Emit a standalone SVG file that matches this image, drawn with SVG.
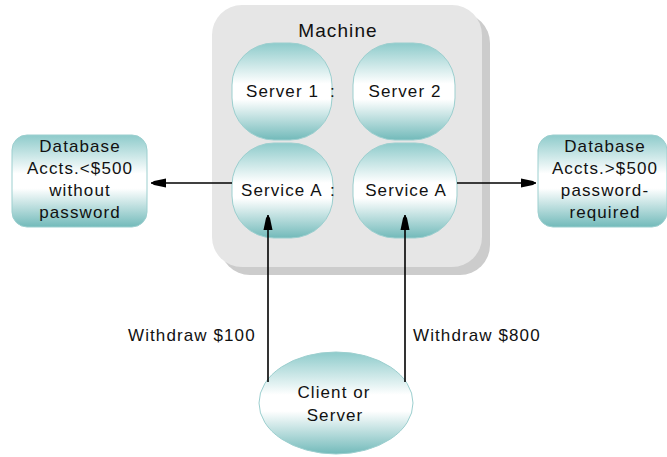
<svg xmlns="http://www.w3.org/2000/svg" width="667" height="457" viewBox="0 0 667 457">
<defs>
<linearGradient id="teal" x1="0" y1="0" x2="0" y2="1">
<stop offset="0" stop-color="#8ecbcb"/>
<stop offset="0.42" stop-color="#ffffff"/>
<stop offset="0.58" stop-color="#ffffff"/>
<stop offset="1" stop-color="#72baba"/>
</linearGradient>
<marker id="arr" markerUnits="userSpaceOnUse" markerWidth="16" markerHeight="12" refX="15" refY="6" orient="auto">
<path d="M0,1.5 L12,4 L15,6 L12,8 L0,10.5 z" fill="#000"/>
</marker>
<style>
.t{font-family:"Liberation Sans",Arial,sans-serif;font-size:17px;fill:#111;letter-spacing:1.1px}
.m{text-anchor:middle}
.node{fill:url(#teal);stroke:#9ccfcf;stroke-width:1}
.edge{stroke:#000;stroke-width:1.6;fill:none;marker-end:url(#arr)}
</style>
</defs>
<g id="machine">
<rect x="220" y="13" width="270" height="262" rx="30" fill="#cccccc"/>
<rect x="212" y="5" width="270" height="262" rx="30" fill="#e6e6e6"/>
<text class="t m" x="338" y="37" style="font-size:19px">Machine</text>
</g>
<g id="server1">
<rect class="node" x="232" y="43" width="100" height="97" rx="42"/>
<text class="t" x="246" y="97">Server 1<tspan x="330">:</tspan></text>
</g>
<g id="server2">
<rect class="node" x="353" y="43" width="102" height="97" rx="42"/>
<text class="t m" x="405" y="97">Server 2</text>
</g>
<g id="serviceA1">
<rect class="node" x="232" y="143" width="101" height="95" rx="42"/>
<text class="t" x="241" y="196">Service A<tspan x="330">:</tspan></text>
</g>
<g id="serviceA2">
<rect class="node" x="353" y="143" width="104" height="95" rx="42"/>
<text class="t m" x="406" y="196">Service A</text>
</g>
<g id="dbLow">
<rect class="node" x="12" y="135" width="135" height="92" rx="15"/>
<text class="t m" x="80" y="152">Database</text>
<text class="t m" x="80" y="174">Accts.&lt;$500</text>
<text class="t m" x="80" y="196">without</text>
<text class="t m" x="80" y="218">password</text>
</g>
<g id="dbHigh">
<rect class="node" x="538" y="135" width="129" height="92" rx="15"/>
<text class="t m" x="605" y="152">Database</text>
<text class="t m" x="605" y="174">Accts.&gt;$500</text>
<text class="t m" x="605" y="196">password-</text>
<text class="t m" x="605" y="218">required</text>
</g>
<g id="client">
<ellipse class="node" cx="336" cy="403" rx="77" ry="51"/>
<text class="t m" x="334" y="398">Client or</text>
<text class="t m" x="335" y="421">Server</text>
</g>
<g id="connectors">
<line class="edge" x1="232" y1="183" x2="151" y2="183"/>
<line class="edge" x1="457" y1="183" x2="536" y2="183"/>
<line class="edge" x1="268" y1="382" x2="268" y2="215"/>
<line class="edge" x1="405" y1="382" x2="405" y2="215"/>
<text class="t" x="128" y="341">Withdraw $100</text>
<text class="t" x="413" y="341">Withdraw $800</text>
</g>
</svg>
